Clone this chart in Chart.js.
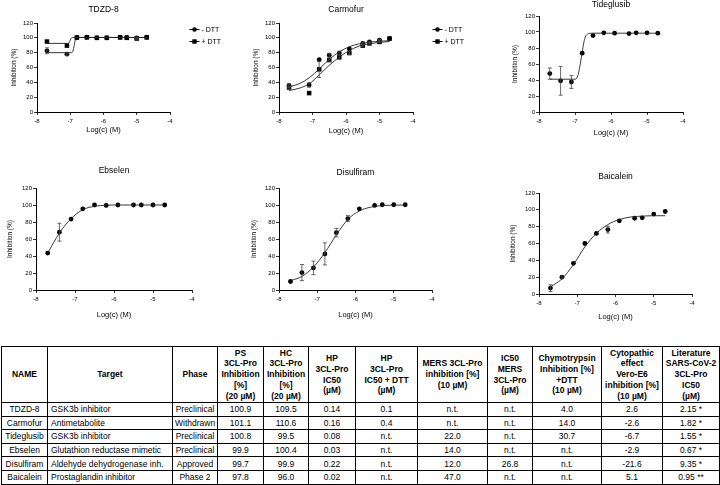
<!DOCTYPE html>
<html>
<head>
<meta charset="utf-8">
<script src="https://cdn.jsdelivr.net/npm/chart.js@4.4.1/dist/chart.umd.min.js"></script>
<style>
body { margin:0; background:#fff; width:720px; height:485px; position:relative; overflow:hidden; font-family:"Liberation Sans", Arial, sans-serif; }
canvas { position:absolute; }
table { position:absolute; left:1px; top:346px; width:718px; border-collapse:collapse; table-layout:fixed; font-size:8.5px; color:#000; }
th, td { border:1px solid #000; padding:0 2px; text-align:center; vertical-align:middle; overflow:hidden; white-space:nowrap; }
th { font-weight:bold; line-height:10.8px; }
td { line-height:10px; }
tr.head { height:56px; }
tr.row { height:13.6px; }
td.left { text-align:left; padding-left:3px; }
</style>
</head>
<body>
<canvas id="c1"></canvas>
<canvas id="c2"></canvas>
<canvas id="c3"></canvas>
<canvas id="c4"></canvas>
<canvas id="c5"></canvas>
<canvas id="c6"></canvas>
<table id="tbl"></table>
<script>
// log concentrations
var xFull = [-7.7, -7.4, -7.1, -6.8, -6.5, -6.2, -5.9, -5.5, -5.3, -5.0, -4.7];
var xShort = [-7.7, -7.1, -6.8, -6.5, -6.2, -5.9, -5.5, -5.3, -5.0, -4.7];
var xFit = [-7.7, -7.4, -7.1, -6.8, -6.5, -6.2, -5.9, -5.6, -5.3, -5.0, -4.7];

// TDZD-8
var tdzdMinus = [82.5, 78, 100, 101, 100, 100, 101, 100.5, 100, 101];
var tdzdMinusErr = [4, 1.5, 0, 0, 0, 0, 0, 0, 1, 0];
var tdzdPlus = [95, 89.5, 100.5, 100.5, 100, 100, 100.5, 100, 99, 100.5];
var tdzdPlusErr = [0, 0, 0, 0, 0, 0, 0, 0, 1.5, 0];
var tdzdFitMinusX = [-7.7, -6.96, -6.92, -6.88, -6.84, -6.8, -4.7];
var tdzdFitMinus = [80, 80, 82, 90, 99, 100.5, 100.5];
var tdzdFitPlusX = [-7.7, -7.06, -7.02, -6.98, -6.94, -4.7];
var tdzdFitPlus = [92.5, 92.5, 94.5, 99, 100.5, 100.5];

// Carmofur
var carmMinus = [35.5, 36.5, 70.5, 76.5, 79.5, 85, 92.5, 94.5, 97, 99];
var carmMinusErr = [2.5, 3, 0, 2.5, 2.5, 0, 1.5, 1, 1, 0];
var carmPlus = [33, 25.5, 57.5, 70, 74, 79.5, 89.5, 92.5, 94.5, 99];
var carmPlusErr = [2, 0, 11, 2, 3, 2, 1.5, 1, 1, 0];
var carmFitMinus = [34, 38, 46, 58, 71, 81, 88, 92, 94, 95.5, 96];
var carmFitPlus = [29, 32, 38, 50, 63, 74, 83, 89, 92, 94, 95];

// Tideglusib
var tideVals = [48, 39, 37.5, 73.5, 95.5, 99, 98.5, 98, 99, 99, 98.5];
var tideErr = [7, 18, 8, 0, 0, 0, 0, 0, 0, 0, 0];
var tideFitX = [-7.7, -7.0, -6.95, -6.9, -6.85, -6.8, -6.75, -6.7, -6.65, -6.6, -6.5, -4.7];
var tideFit = [41, 41, 42.5, 49, 61, 75, 88, 95, 97.5, 98.3, 98.5, 98.5];

// Ebselen
var ebsVals = [43.5, 68, 83.5, 95.5, 100, 99.5, 100, 100, 100, 100, 100];
var ebsErr = [0, 10.5, 0, 0, 0, 0, 0, 0, 0, 0, 0];
var ebsFit = [43.5, 67, 84, 94.5, 98.5, 99.7, 100, 100, 100, 100, 100];

// Disulfiram
var disVals = [10, 20.5, 26, 42.5, 67.5, 84, 95.5, 99.5, 100.3, 100.3, 100.3];
var disErr = [0, 9.5, 8, 13, 5, 3.5, 0, 0, 0, 0, 0];
var disFit = [11, 16, 27, 44, 65, 83, 93, 97.5, 99.3, 99.8, 100];

// Baicalein
var baiVals = [7, 20, 36.5, 60, 72, 76.5, 87, 90, 90.5, 95, 98];
var baiErr = [4, 1.5, 0, 0, 0, 4, 0, 0, 0, 0, 0];
var baiFit = [8.5, 18, 35, 56, 72, 82.5, 88.5, 91.5, 92.5, 93, 93];

var yTicks = [0, 20, 40, 60, 80, 100, 120];
var xTicks = [-8, -7, -6, -5, -4];

// table
var colHeads = ['NAME', 'Target', 'Phase',
  'PS<br>3CL-Pro<br>Inhibition<br>[%]<br>(20 µM)',
  'HC<br>3CL-Pro<br>Inhibition<br>[%]<br>(20 µM)',
  'HP<br>3CL-Pro<br>IC50<br>(µM)',
  'HP<br>3CL-Pro<br>IC50 + DTT<br>(µM)',
  'MERS 3CL-Pro<br>inhibition [%]<br>(10 µM)',
  'IC50<br>MERS<br>3CL-Pro<br>(µM)',
  'Chymotrypsin<br>Inhibition [%]<br>+DTT<br>(10 µM)',
  'Cytopathic<br>effect<br>Vero-E6<br>inhibition [%]<br>(10 µM)',
  'Literature<br>SARS-CoV-2<br>3CL-Pro<br>IC50<br>(µM)'];
var colWidths = [46, 125, 45, 46, 45, 47, 62, 70, 45, 69, 61, 57];
var names = ['TDZD-8', 'Carmofur', 'Tideglusib', 'Ebselen', 'Disulfiram', 'Baicalein'];
var targets = ['GSK3b inhibitor', 'Antimetabolite', 'GSK3b inhibitor', 'Glutathion reductase mimetic', 'Aldehyde dehydrogenase inh.', 'Prostaglandin inhibitor'];
var phases = ['Preclinical', 'Withdrawn', 'Preclinical', 'Preclinical', 'Approved', 'Phase 2'];
var psInh = ['100.9', '101.1', '100.8', '99.9', '99.7', '97.8'];
var hcInh = ['109.5', '110.6', '99.5', '100.4', '99.9', '96.0'];
var hpIC50 = ['0.14', '0.16', '0.08', '0.03', '0.22', '0.02'];
var hpIC50Dtt = ['0.1', '0.4', 'n.t.', 'n.t.', 'n.t.', 'n.t.'];
var mersInh = ['n.t.', 'n.t.', '22.0', '14.0', '12.0', '47.0'];
var mersIC50 = ['n.t.', 'n.t.', 'n.t.', 'n.t.', '26.8', 'n.t.'];
var chymo = ['4.0', '14.0', '30.7', 'n.t.', 'n.t.', 'n.t.'];
var cpe = ['2.6', '-2.6', '-6.7', '-2.9', '-21.6', '5.1'];
var litIC50 = ['2.15 *', '1.82 *', '1.55 *', '0.67 *', '9.35 *', '0.95 **'];

Chart.defaults.font.family = '"Liberation Sans", Arial, sans-serif';
Chart.defaults.color = '#000';

function pts(xs, ys) {
  return xs.map(function (x, i) { return { x: x, y: ys[i] }; });
}

function markers(xs, ys, errs, style, label) {
  return {
    label: label,
    data: pts(xs, ys),
    errs: errs,
    showLine: false,
    pointStyle: style,
    pointRadius: style == 'rect' ? 3.2 : 2.4,
    backgroundColor: '#000',
    borderColor: '#000',
    borderWidth: 0
  };
}

function fitLine(xs, ys) {
  return {
    data: pts(xs, ys),
    showLine: true,
    pointRadius: 0,
    borderColor: '#222',
    borderWidth: 0.9,
    cubicInterpolationMode: 'monotone',
    fill: false
  };
}

// error bars, title and legend drawn with chart scales
var panelPlugin = {
  id: 'panel',
  afterDatasetsDraw: function (chart) {
    var ctx = chart.ctx, ys = chart.scales.y;
    ctx.save();
    ctx.strokeStyle = '#444';
    ctx.lineWidth = 0.8;
    chart.data.datasets.forEach(function (ds, i) {
      if (!ds.errs) return;
      var meta = chart.getDatasetMeta(i);
      meta.data.forEach(function (el, j) {
        var e = ds.errs[j];
        if (!e) return;
        var v = ds.data[j].y;
        var y1 = ys.getPixelForValue(v + e), y2 = ys.getPixelForValue(v - e);
        ctx.beginPath();
        ctx.moveTo(el.x, y1); ctx.lineTo(el.x, y2);
        ctx.moveTo(el.x - 2, y1); ctx.lineTo(el.x + 2, y1);
        ctx.moveTo(el.x - 2, y2); ctx.lineTo(el.x + 2, y2);
        ctx.stroke();
      });
    });
    ctx.restore();
  },
  afterDraw: function (chart) {
    var o = chart.options.plugins.panel, ca = chart.chartArea, ctx = chart.ctx;
    ctx.save();
    ctx.fillStyle = '#000';
    ctx.textAlign = 'center';
    ctx.textBaseline = 'middle';
    ctx.font = '8.5px "Liberation Sans", Arial, sans-serif';
    ctx.fillText(o.title, (ca.left + ca.right) / 2, ca.top - o.titleDy);
    if (o.legend) {
      ctx.font = '7px "Liberation Sans", Arial, sans-serif';
      ctx.textAlign = 'left';
      o.legend.forEach(function (item, k) {
        var x = ca.right + 24.5, y = ca.top + 6.5 + k * 12;
        ctx.strokeStyle = '#000';
        ctx.lineWidth = 1;
        ctx.beginPath(); ctx.moveTo(x - 5, y); ctx.lineTo(x + 5, y); ctx.stroke();
        ctx.beginPath();
        if (item.style == 'rect') ctx.rect(x - 2.2, y - 2.2, 4.4, 4.4);
        else ctx.arc(x, y, 2.3, 0, Math.PI * 2);
        ctx.fill();
        ctx.fillText(item.text, x + 7, y + 0.5);
      });
    }
    ctx.restore();
  }
};

function makePanel(id, spec, datasets) {
  var cv = document.getElementById(id);
  var left = spec.l - 34;
  var width = spec.r - left + spec.padR;
  var height = spec.b + 32 - spec.ctop;
  cv.width = width; cv.height = height;
  cv.style.left = left + 'px';
  cv.style.top = spec.ctop + 'px';
  cv.style.width = width + 'px';
  cv.style.height = height + 'px';
  var yTitlePad = spec.yTitleX - left - 3.9;
  var xTitlePad = (spec.b + 32) - 4.5 - spec.xTitleY;
  new Chart(cv, {
    type: 'scatter',
    data: { datasets: datasets },
    options: {
      responsive: false,
      animation: false,
      events: [],
      layout: { padding: { left: 0, top: spec.t - spec.ctop, right: spec.padR, bottom: 0 } },
      plugins: {
        legend: { display: false },
        tooltip: { enabled: false },
        panel: { title: spec.title, titleDy: spec.t - spec.titleY, legend: spec.legend }
      },
      scales: {
        x: {
          type: 'linear', min: -8, max: -4,
          afterBuildTicks: function (s) { s.ticks = xTicks.map(function (v) { return { value: v }; }); },
          afterFit: function (s) { s.height = 32; },
          ticks: { font: { size: 6 }, padding: 2.5, maxRotation: 0, color: '#000' },
          grid: { drawOnChartArea: false, drawTicks: true, tickLength: 3, color: '#000', lineWidth: 0.8 },
          border: { display: true, color: '#000', width: 1 },
          title: { display: true, text: 'Log(c) (M)', font: { size: 7.5 }, color: '#000', padding: { top: 0, bottom: xTitlePad } }
        },
        y: {
          type: 'linear', min: 0, max: 120,
          afterBuildTicks: function (s) { s.ticks = yTicks.map(function (v) { return { value: v }; }); },
          afterFit: function (s) { s.width = 34; },
          ticks: { font: { size: 6 }, padding: 1, color: '#000' },
          grid: { drawOnChartArea: false, drawTicks: true, tickLength: 3, color: '#000', lineWidth: 0.8 },
          border: { display: true, color: '#000', width: 1 },
          title: { display: true, text: 'Inhibition (%)', font: { size: 6.5 }, color: '#000', padding: { top: yTitlePad, bottom: 0 } }
        }
      }
    },
    plugins: [panelPlugin]
  });
}

var dttLegend = [{ style: 'circle', text: '- DTT' }, { style: 'rect', text: '+ DTT' }];

makePanel('c1', { l: 37, r: 170, t: 23, b: 112, ctop: 0, padR: 62, yTitleX: 14, xTitleY: 130, titleY: 10, title: 'TDZD-8', legend: dttLegend }, [
  fitLine(tdzdFitMinusX, tdzdFitMinus),
  fitLine(tdzdFitPlusX, tdzdFitPlus),
  markers(xShort, tdzdPlus, tdzdPlusErr, 'rect', '+ DTT'),
  markers(xShort, tdzdMinus, tdzdMinusErr, 'circle', '- DTT')
]);

makePanel('c2', { l: 279, r: 413, t: 23, b: 112, ctop: 0, padR: 62, yTitleX: 256, xTitleY: 131, titleY: 10, title: 'Carmofur', legend: dttLegend }, [
  fitLine(xFit, carmFitMinus),
  fitLine(xFit, carmFitPlus),
  markers(xShort, carmPlus, carmPlusErr, 'rect', '+ DTT'),
  markers(xShort, carmMinus, carmMinusErr, 'circle', '- DTT')
]);

makePanel('c3', { l: 539, r: 683, t: 16, b: 112, ctop: 0, padR: 12, yTitleX: 515, xTitleY: 133, titleY: 5, title: 'Tideglusib' }, [
  fitLine(tideFitX, tideFit),
  markers(xFull, tideVals, tideErr, 'circle', 'Tideglusib')
]);

makePanel('c4', { l: 36, r: 192, t: 188, b: 290, ctop: 150, padR: 12, yTitleX: 10, xTitleY: 315, titleY: 171, title: 'Ebselen' }, [
  fitLine(xFit, ebsFit),
  markers(xFull, ebsVals, ebsErr, 'circle', 'Ebselen')
]);

makePanel('c5', { l: 279, r: 432, t: 188, b: 290, ctop: 150, padR: 12, yTitleX: 254, xTitleY: 315, titleY: 173, title: 'Disulfiram' }, [
  fitLine(xFit, disFit),
  markers(xFull, disVals, disErr, 'circle', 'Disulfiram')
]);

makePanel('c6', { l: 539, r: 692, t: 193, b: 294, ctop: 150, padR: 12, yTitleX: 513, xTitleY: 317, titleY: 177, title: 'Baicalein' }, [
  fitLine(xFit, baiFit),
  markers(xFull, baiVals, baiErr, 'circle', 'Baicalein')
]);

// build table
var tbl = document.getElementById('tbl');
var html = '<colgroup>' + colWidths.map(function (w) { return '<col style="width:' + w + 'px">'; }).join('') + '</colgroup>';
html += '<tr class="head">' + colHeads.map(function (h) { return '<th>' + h + '</th>'; }).join('') + '</tr>';
for (var i = 0; i < names.length; i++) {
  var cells = [names[i], targets[i], phases[i], psInh[i], hcInh[i], hpIC50[i], hpIC50Dtt[i], mersInh[i], mersIC50[i], chymo[i], cpe[i], litIC50[i]];
  html += '<tr class="row">' + cells.map(function (c, k) { return '<td' + (k == 1 ? ' class="left"' : '') + '>' + c + '</td>'; }).join('') + '</tr>';
}
tbl.innerHTML = html;
</script>
</body>
</html>
